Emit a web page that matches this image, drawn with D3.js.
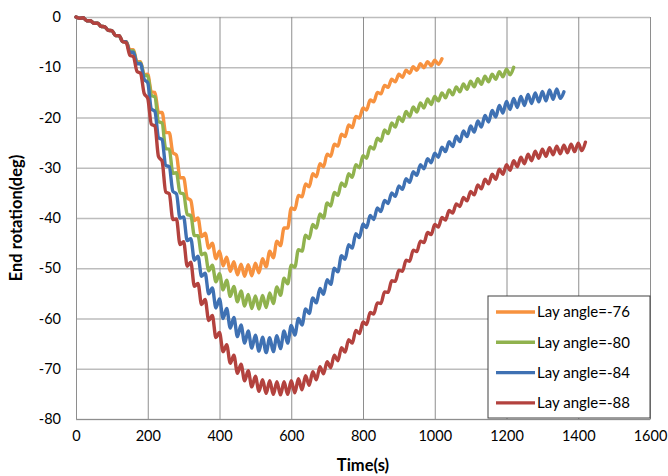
<!DOCTYPE html>
<html>
<head>
<meta charset="utf-8">
<script src="https://cdn.jsdelivr.net/npm/d3@7"></script>
<style>
	body { margin: 0; background: #fff; }
	text { font-family: Lato, "Open Sans", sans-serif; fill: #000; }
</style>
</head>
<body>
<div id="dv1"></div>
<script>
"use strict";

/*
	DONNÉES	****	****	****	****	****	*/

var pasTemps = 10; // s entre deux relevés

var rot76 = [0, -0.25, -0.15, -0.75, -0.75, -1.25, -1.25, -1.85, -1.95, -2.65,
	-2.7, -3.7, -3.7, -4.9, -4.9, -6.5, -6.5, -8.9, -8.9, -11.5,
	-11.4, -14.9, -15.0, -19.0, -19.0, -23.0, -23.0, -27.0, -27.5, -32.0,
	-32.0, -36.0, -36.5, -40.5, -40.0, -43.7, -43.0, -46.0, -45.0, -48.1,
	-46.6, -49.5, -47.8, -50.6, -48.7, -51.3, -49.2, -51.6, -49.3, -51.5,
	-49.0, -50.9, -48.1, -49.7, -46.6, -47.9, -44.6, -45.5, -42.0, -42.0,
	-38.0, -38.3, -35.5, -35.8, -33.2, -33.8, -31.2, -31.8, -29.2, -29.8,
	-27.3, -27.7, -25.3, -25.7, -23.3, -23.8, -21.5, -22.0, -19.8, -20.1,
	-18.1, -18.5, -16.5, -16.9, -15.0, -15.3, -13.6, -14.0, -12.4, -12.9,
	-11.4, -12.0, -10.6, -11.2, -9.9, -10.6, -9.3, -10.1, -8.9, -9.7,
	-8.6, -9.4, -8.3];

var rot80 = [0, -0.25, -0.15, -0.75, -0.75, -1.25, -1.25, -1.85, -1.95, -2.65,
	-2.7, -3.7, -3.7, -4.9, -4.9, -6.8, -6.7, -9.2, -9.1, -11.6,
	-11.7, -15.6, -15.9, -20.8, -21.1, -26.2, -26.3, -31.1, -31.0, -35.0,
	-35.2, -39.3, -39.5, -43.5, -43.5, -47.3, -47.0, -50.5, -49.4, -52.7,
	-51.1, -54.3, -52.4, -55.6, -53.6, -56.7, -54.5, -57.5, -55.2, -58.0,
	-55.5, -58.1, -55.4, -57.8, -54.9, -57.0, -53.7, -55.4, -52.0, -53.1,
	-49.4, -49.8, -46.3, -46.6, -43.4, -44.1, -41.3, -42.0, -39.2, -40.0,
	-37.0, -37.6, -34.9, -35.5, -33.0, -33.7, -31.2, -31.9, -29.4, -30.0,
	-27.6, -28.1, -25.8, -26.3, -24.1, -24.7, -22.5, -23.2, -21.1, -21.9,
	-19.9, -20.8, -18.8, -19.8, -17.9, -18.9, -17.1, -18.1, -16.3, -17.4,
	-15.8, -16.7, -15.1, -16.1, -14.5, -15.5, -13.9, -14.9, -13.3, -14.4,
	-12.8, -13.9, -12.3, -13.4, -11.8, -12.9, -11.4, -12.4, -10.9, -11.9,
	-10.4, -11.5, -10.0];

var rot84 = [0, -0.25, -0.15, -0.75, -0.75, -1.25, -1.25, -1.85, -1.95, -2.65,
	-2.7, -3.7, -3.7, -4.9, -4.9, -7.0, -7.0, -9.3, -9.3, -12.4,
	-13.1, -18.3, -18.8, -24.0, -24.4, -29.5, -29.8, -34.7, -35.2, -40.0,
	-39.8, -44.5, -44.1, -48.4, -47.6, -51.6, -51.0, -55.1, -53.9, -57.9,
	-56.1, -60.0, -58.0, -61.9, -59.8, -63.6, -61.3, -64.9, -62.5, -65.9,
	-63.3, -66.5, -63.7, -66.8, -63.8, -66.6, -63.4, -66.0, -62.5, -64.9,
	-61.4, -63.3, -60.0, -61.3, -58.1, -59.0, -55.9, -56.9, -54.0, -55.2,
	-52.3, -53.2, -50.0, -50.7, -47.5, -48.2, -45.3, -46.0, -43.1, -43.9,
	-41.2, -41.9, -39.5, -40.3, -38.0, -38.7, -36.5, -37.1, -35.0, -35.7,
	-33.6, -34.3, -32.2, -32.9, -30.8, -31.5, -29.4, -30.2, -28.2, -29.0,
	-27.1, -27.9, -25.9, -26.8, -24.8, -25.8, -23.7, -24.8, -22.7, -23.8,
	-21.7, -22.9, -20.7, -21.9, -19.6, -20.9, -18.6, -19.9, -17.6, -19.1,
	-16.8, -18.4, -16.2, -18.0, -15.8, -17.6, -15.4, -17.2, -15.1, -16.9,
	-14.8, -16.7, -14.5, -16.4, -14.3, -16.2, -14.9];

var rot88 = [0, -0.25, -0.15, -0.75, -0.75, -1.25, -1.25, -1.85, -1.95, -2.65,
	-2.7, -3.7, -3.7, -4.9, -5.1, -7.6, -7.9, -10.8, -11.2, -15.2,
	-16.2, -21.3, -21.7, -27.8, -28.7, -34.8, -35.2, -40.3, -40.2, -45.3,
	-44.7, -49.6, -48.8, -53.6, -53.0, -57.2, -56.2, -60.4, -59.4, -63.8,
	-62.8, -66.6, -65.2, -68.9, -67.3, -70.9, -69.1, -72.4, -70.4, -73.6,
	-71.5, -74.5, -72.2, -74.9, -72.4, -75.1, -72.6, -75.2, -72.6, -75.1,
	-72.4, -74.8, -72.0, -74.2, -71.4, -73.3, -70.6, -72.2, -69.6, -71.0,
	-68.6, -69.8, -67.3, -68.4, -65.8, -66.7, -64.2, -64.9, -62.4, -63.0,
	-60.7, -61.2, -58.8, -59.1, -56.9, -57.0, -54.7, -54.8, -52.5, -52.6,
	-50.4, -50.6, -48.4, -48.6, -46.4, -46.7, -44.6, -44.9, -42.9, -43.3,
	-41.3, -41.8, -39.9, -40.4, -38.5, -39.0, -37.2, -37.7, -35.9, -36.6,
	-34.7, -35.4, -33.4, -34.2, -32.3, -33.2, -31.3, -32.3, -30.3, -31.3,
	-29.4, -30.5, -28.6, -29.8, -27.9, -29.2, -27.3, -28.6, -26.7, -28.1,
	-26.3, -27.7, -26.0, -27.4, -25.7, -27.2, -25.5, -27.0, -25.3, -26.8,
	-25.1, -26.6, -24.9];

var series = ["Lay angle=-76", "Lay angle=-80", "Lay angle=-84", "Lay angle=-88"];
var couleurs = ["#F7923F", "#90B24E", "#3F71B3", "#B3423E"];
var ticksX = [0, 200, 400, 600, 800, 1000, 1200, 1400, 1600];
var ticksY = [0, -10, -20, -30, -40, -50, -60, -70, -80];

/*
	DIMENSIONS	****	****	****	****	****	*/

var larg = 668, haut = 476;
var cadre = { left: 76, right: 650, top: 17, bottom: 419 };

var x = d3.scaleLinear().domain([0, 1600]).range([cadre.left, cadre.right]);
var y = d3.scaleLinear().domain([-80, 0]).range([cadre.bottom, cadre.top]);

var ecrire = d => String(d); // tiret simple, sans séparateur de milliers

var svg = d3.select("#dv1")
	.append("svg")
	.attr("width", larg)
	.attr("height", haut);

// grilles
svg.append("g")
	.attr("class", "grilleY")
	.attr("transform", "translate(" + cadre.left + ",0)")
	.call(d3.axisLeft(y)
		.tickValues(ticksY)
		.tickSize(-(cadre.right - cadre.left))
		.tickFormat(""))
	.call(g => g.select(".domain").remove())
	.selectAll("line")
	.attr("stroke", "#BDBDBD")
	.attr("stroke-width", 1.6);

svg.append("g")
	.attr("class", "grilleX")
	.attr("transform", "translate(0," + cadre.bottom + ")")
	.call(d3.axisBottom(x)
		.tickValues(ticksX)
		.tickSize(-(cadre.bottom - cadre.top))
		.tickFormat(""))
	.call(g => g.select(".domain").remove())
	.selectAll("line")
	.attr("stroke", "#8E8E8E")
	.attr("stroke-width", 1);

// axes
svg.append("g")
	.attr("class", "y axis")
	.attr("transform", "translate(" + cadre.left + ",0)")
	.call(d3.axisLeft(y)
		.tickValues(ticksY)
		.tickFormat(ecrire)
		.tickSize(0)
		.tickPadding(15))
	.call(g => g.select(".domain").attr("stroke", "#8E8E8E"))
	.selectAll("text")
	.style("font-size", "14.5px");

svg.append("g")
	.attr("class", "x axis")
	.attr("transform", "translate(0," + cadre.bottom + ")")
	.call(d3.axisBottom(x)
		.tickValues(ticksX)
		.tickFormat(ecrire)
		.tickSize(0)
		.tickPadding(12))
	.call(g => g.select(".domain").attr("stroke", "#8E8E8E"))
	.selectAll("text")
	.style("font-size", "14.5px");

// titres des axes
svg.append("text")
	.attr("transform", "translate(22," + ((cadre.top + cadre.bottom) / 2) + ") rotate(-90)")
	.attr("text-anchor", "middle")
	.style("font-size", "16.5px")
	.style("font-weight", "bold")
	.text("End rotation(deg)");

svg.append("text")
	.attr("x", (cadre.left + cadre.right) / 2)
	.attr("y", 471)
	.attr("text-anchor", "middle")
	.style("font-size", "16.5px")
	.style("font-weight", "bold")
	.text("Time(s)");

// courbes
var ligne = d3.line()
	.x((d, i) => x(i * pasTemps))
	.y(d => y(d))
	.curve(d3.curveMonotoneX);

svg.append("g")
	.attr("class", "courbes")
	.selectAll("path")
	.data([rot76, rot80, rot84, rot88])
	.enter()
		.append("path")
		.attr("d", ligne)
		.attr("fill", "none")
		.attr("stroke", (d, i) => couleurs[i])
		.attr("stroke-width", 3.4)
		.attr("stroke-linejoin", "round")
		.attr("stroke-linecap", "round");

// légende
var leg = svg.append("g")
	.attr("class", "legende")
	.attr("transform", "translate(488,296)");

leg.append("rect")
	.attr("width", 162)
	.attr("height", 122)
	.attr("fill", "#fff")
	.attr("stroke", "#404040")
	.attr("stroke-width", 1);

var entree = leg.selectAll("g")
	.data(series)
	.enter()
		.append("g")
		.attr("transform", (d, i) => "translate(0," + (16 + i * 30.3) + ")");

entree.append("line")
	.attr("x1", 8)
	.attr("x2", 47)
	.attr("stroke", (d, i) => couleurs[i])
	.attr("stroke-width", 3.4);

entree.append("text")
	.attr("x", 49)
	.attr("dy", "0.35em")
	.style("font-size", "15px")
	.text(d => d);
</script>
</body>
</html>
